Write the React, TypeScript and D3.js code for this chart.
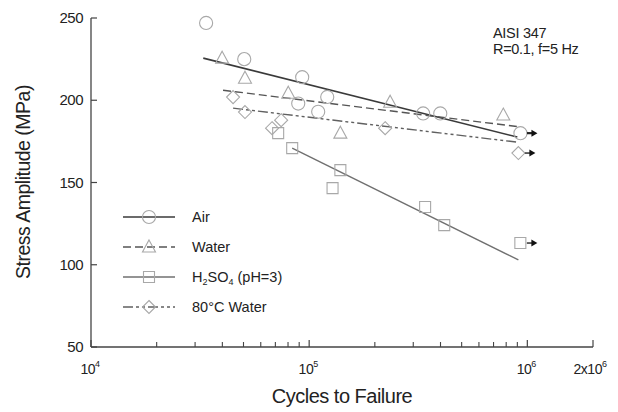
import React from "react";
import * as d3 from "d3";

// ---- Data (cycles to failure, stress amplitude MPa) ----
const airN = [33700, 50400, 89100, 92900, 110000, 121000, 333000, 399000];
const airS = [247, 225, 198, 214, 193, 202, 192, 192];
const airRunN = [930000];
const airRunS = [180];
const airFitN = [32700, 900000];
const airFitS = [225.6, 177.6];

const waterN = [39900, 50800, 80200, 139000, 235000, 776000];
const waterS = [225.6, 213.4, 204.3, 180.0, 198.8, 191.0];
const waterFitN = [40300, 900000];
const waterFitS = [206.1, 184.0];

const acidN = [72100, 83600, 139000, 128000, 340000, 416000];
const acidS = [180.0, 170.9, 157.5, 146.6, 135.1, 124.1];
const acidRunN = [929000];
const acidRunS = [113.2];
const acidFitN = [83600, 910000];
const acidFitS = [170.9, 102.9];

const hotN = [44800, 50800, 67600, 74400, 223000];
const hotS = [201.9, 192.8, 183.0, 187.9, 183.0];
const hotRunN = [910000];
const hotRunS = [167.9];
const hotFitN = [44800, 900000];
const hotFitS = [195.2, 174.5];

const yTicks = [50, 100, 150, 200, 250];
const xMajor = [1e4, 1e5, 1e6];
const legendLabels = ["Air", "Water", "H2SO4", "80°C Water"];

const W = 618;
const H = 412;
const L = 91, R = 593, T = 18, B = 347;

const x = d3.scaleLog().domain([1e4, 2e6]).range([L, R]);
const y = d3.scaleLinear().domain([50, 250]).range([B, T]);

const mStroke = "#a8a8a8";
const font = "'Liberation Sans', Arial, sans-serif";

type Shape = "circle" | "triangle" | "square" | "diamond";

function markerPath(shape: Shape): string {
  if (shape === "circle") return d3.symbol().type(d3.symbolCircle).size(135)() as string;
  if (shape === "triangle") return "M0,-7L6.5,5L-6.5,5Z";
  if (shape === "square") return "M-5.5,-5.5H5.5V5.5H-5.5Z";
  return "M0,-6.5L6.5,0L0,6.5L-6.5,0Z";
}

function Marker({ cx, cy, shape }: { cx: number; cy: number; shape: Shape }) {
  return (
    <path
      d={markerPath(shape)}
      transform={`translate(${cx},${cy})`}
      fill="none"
      stroke={mStroke}
      strokeWidth={1.1}
    />
  );
}

function Runout({ cx, cy, shape, dark }: { cx: number; cy: number; shape: Shape; dark?: boolean }) {
  const x0 = cx + 6.5;
  const x1 = cx + 17;
  return (
    <g>
      <Marker cx={cx} cy={cy} shape={shape} />
      <line x1={x0} y1={cy} x2={x1 - 4} y2={cy} stroke="#222" strokeWidth={dark ? 2.2 : 1.4} />
      <path d={`M${x1},${cy}L${x1 - 6},${cy - 3.5}L${x1 - 6},${cy + 3.5}Z`} fill="#111" />
    </g>
  );
}

function fitLine(ns: number[], ss: number[]): string {
  const pts: [number, number][] = ns.map((n, i) => [x(n), y(ss[i])]);
  return d3.line()(pts) as string;
}

const series = [
  { name: legendLabels[0], n: airN, s: airS, rn: airRunN, rs: airRunS, fn: airFitN, fs: airFitS, shape: "circle" as Shape, color: "#3a3a3a", dash: "", width: 1.6 },
  { name: legendLabels[1], n: waterN, s: waterS, rn: [] as number[], rs: [] as number[], fn: waterFitN, fs: waterFitS, shape: "triangle" as Shape, color: "#555", dash: "8,4", width: 1.4 },
  { name: legendLabels[2], n: acidN, s: acidS, rn: acidRunN, rs: acidRunS, fn: acidFitN, fs: acidFitS, shape: "square" as Shape, color: "#707070", dash: "", width: 1.4 },
  { name: legendLabels[3], n: hotN, s: hotS, rn: hotRunN, rs: hotRunS, fn: hotFitN, fs: hotFitS, shape: "diamond" as Shape, color: "#606060", dash: "10,3,3,3,3,3", width: 1.4 },
];

function minorTicks(): number[] {
  const out: number[] = [];
  for (const dec of [1e4, 1e5]) for (let k = 2; k <= 9; k++) out.push(k * dec);
  return out;
}

const lgFont = 14.5;

function LegendLabel({ i, tx, ty }: { i: number; tx: number; ty: number }) {
  if (i === 2) {
    return (
      <text x={tx} y={ty} fontSize={lgFont} fontFamily={font} fill="#222">
        H<tspan fontSize={9} dy={3}>2</tspan>
        <tspan dy={-3}>SO</tspan>
        <tspan fontSize={9} dy={3}>4</tspan>
        <tspan dy={-3}> (pH=3)</tspan>
      </text>
    );
  }
  return (
    <text x={tx} y={ty} fontSize={lgFont} fontFamily={font} fill="#222">
      {legendLabels[i]}
    </text>
  );
}

export default function App() {
  const axisColor = "#444";
  return (
    <svg
      width={W}
      height={H}
      style={{ position: "absolute", left: 0, top: 0, background: "#fff" }}
    >
      <rect x={0} y={0} width={W} height={H} fill="#fff" />
      {/* axes */}
      <line x1={L} y1={T} x2={L} y2={B} stroke={axisColor} strokeWidth={1.3} />
      <line x1={L} y1={B} x2={R} y2={B} stroke={axisColor} strokeWidth={1.3} />
      {yTicks.map((t) => (
        <g key={"yt" + t}>
          <line x1={L} x2={L + 6} y1={y(t)} y2={y(t)} stroke={axisColor} strokeWidth={1.2} />
          <text x={L - 8} y={y(t) + 5} textAnchor="end" fontSize={15} fontFamily={font} fill="#222" letterSpacing={-0.5}>
            {t}
          </text>
        </g>
      ))}
      {[...xMajor, 2e6].map((t) => (
        <line key={"xm" + t} x1={x(t)} x2={x(t)} y1={B} y2={B - 7} stroke={axisColor} strokeWidth={1.2} />
      ))}
      {minorTicks().map((t) => (
        <line key={"xn" + t} x1={x(t)} x2={x(t)} y1={B} y2={B - 5} stroke={axisColor} strokeWidth={1.1} />
      ))}
      {xMajor.map((t) => (
        <text key={"xl" + t} x={x(t) - 1} y={B + 27} textAnchor="middle" fontSize={14} fontFamily={font} fill="#222" letterSpacing={-0.5}>
          10<tspan fontSize={9} dy={-7}>{Math.round(Math.log10(t))}</tspan>
        </text>
      ))}
      <text x={x(2e6) - 3} y={B + 27} textAnchor="middle" fontSize={14} fontFamily={font} fill="#222" letterSpacing={-0.5}>
        2x10<tspan fontSize={9} dy={-7}>6</tspan>
      </text>
      <text x={342} y={403} textAnchor="middle" fontSize={20} fontFamily={font} fill="#222" letterSpacing={-0.5}>
        Cycles to Failure
      </text>
      <text
        transform={`translate(30,${182}) rotate(-90)`}
        textAnchor="middle"
        fontSize={19.5}
        fontFamily={font}
        fill="#222"
        letterSpacing={-0.5}
      >
        Stress Amplitude (MPa)
      </text>

      {/* annotation */}
      <text x={493} y={38} fontSize={14.5} fontFamily={font} fill="#222" letterSpacing={-0.3}>AISI 347</text>
      <text x={493} y={54} fontSize={14.5} fontFamily={font} fill="#222" letterSpacing={-0.3}>R=0.1, f=5 Hz</text>

      {/* fit lines */}
      {series.map((s) => (
        <path
          key={"f" + s.name}
          d={fitLine(s.fn, s.fs)}
          fill="none"
          stroke={s.color}
          strokeWidth={s.width}
          strokeDasharray={s.dash || undefined}
        />
      ))}

      {/* markers */}
      {series.map((s) => (
        <g key={"m" + s.name}>
          {s.n.map((n, i) => (
            <Marker key={i} cx={x(n)} cy={y(s.s[i])} shape={s.shape} />
          ))}
          {s.rn.map((n, i) => (
            <Runout key={"r" + i} cx={x(n)} cy={y(s.rs[i])} shape={s.shape} dark={s.shape === "circle"} />
          ))}
        </g>
      ))}

      {/* legend */}
      {series.map((s, i) => {
        const ly = 217 + i * 30;
        return (
          <g key={"lg" + s.name}>
            <line
              x1={123}
              x2={175}
              y1={ly}
              y2={ly}
              stroke={s.color}
              strokeWidth={s.width}
              strokeDasharray={s.dash || undefined}
            />
            <Marker cx={149} cy={ly} shape={s.shape} />
            <LegendLabel i={i} tx={192} ty={ly + 5} />
          </g>
        );
      })}
    </svg>
  );
}
